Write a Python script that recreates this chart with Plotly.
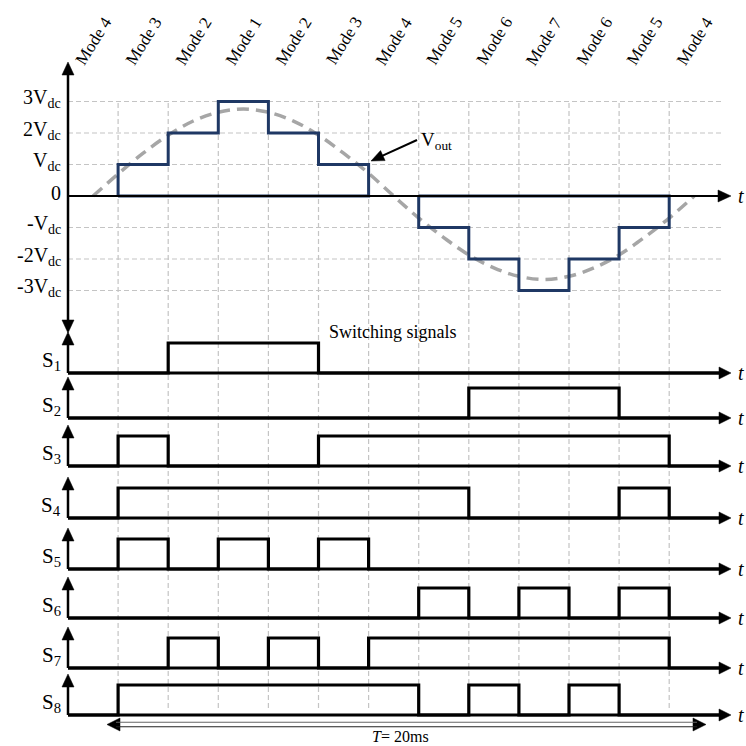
import math
import plotly.graph_objects as go

# ---------------- data ----------------
mode_labels = ["Mode 4", "Mode 3", "Mode 2", "Mode 1", "Mode 2", "Mode 3", "Mode 4",
               "Mode 5", "Mode 6", "Mode 7", "Mode 6", "Mode 5", "Mode 4"]
vout_levels = [0, 1, 2, 3, 2, 1, 0, -1, -2, -3, -2, -1, 0]

level_values = [3, 2, 1, 0, -1, -2, -3]
level_labels = ["3V<sub>dc</sub>", "2V<sub>dc</sub>", "V<sub>dc</sub>", "0",
                "-V<sub>dc</sub>", "-2V<sub>dc</sub>", "-3V<sub>dc</sub>"]

# dashed reference sine (in Vdc units)
sine_t = [0.5, 1.0, 1.5, 2.0, 2.5, 3.0, 3.5, 4.0, 4.5, 5.0, 5.5, 6.0, 6.5,
          7.0, 7.5, 8.0, 8.5, 9.0, 9.5, 10.0, 10.5, 11.0, 11.5, 12.0, 12.5]
sine_v = [0.0, 0.70, 1.36, 1.93, 2.38, 2.66, 2.76, 2.66, 2.38, 1.93, 1.36, 0.72, 0.0,
          -0.70, -1.32, -1.87, -2.28, -2.55, -2.65, -2.55, -2.28, -1.87, -1.32, -0.70, 0.0]

signal_names = ["S<sub>1</sub>", "S<sub>2</sub>", "S<sub>3</sub>", "S<sub>4</sub>",
                "S<sub>5</sub>", "S<sub>6</sub>", "S<sub>7</sub>", "S<sub>8</sub>"]
S1 = [0, 0, 1, 1, 1, 0, 0, 0, 0, 0, 0, 0, 0]
S2 = [0, 0, 0, 0, 0, 0, 0, 0, 1, 1, 1, 0, 0]
S3 = [0, 1, 0, 0, 0, 1, 1, 1, 1, 1, 1, 1, 0]
S4 = [0, 1, 1, 1, 1, 1, 1, 1, 0, 0, 0, 1, 0]
S5 = [0, 1, 0, 1, 0, 1, 0, 0, 0, 0, 0, 0, 0]
S6 = [0, 0, 0, 0, 0, 0, 0, 1, 0, 1, 0, 1, 0]
S7 = [0, 0, 1, 0, 1, 0, 1, 1, 1, 1, 1, 1, 0]
S8 = [0, 1, 1, 1, 1, 1, 1, 0, 1, 0, 1, 0, 0]
signals = [S1, S2, S3, S4, S5, S6, S7, S8]

title_switching = "Switching signals"
vout_label = "V<sub>out</sub>"
period_label = "<i>T</i>= 20ms"
t_label = "<i>t</i>"

# ---------------- layout geometry ----------------
W = H = 746
X0_PX, UNIT = 68, 50.1
Y0_PX, VSCALE = 196, 31.5
SIG_BASE_PX = [373, 418, 466, 518, 569, 618, 668, 715]
SIG_SCALE = 30.0
T_TIP_PX = 731

FONT = "Liberation Serif, Times New Roman, serif"
NAVY = "#1f3864"
GRID = "#c4c4c4"


def xd(px):
    return (px - X0_PX) / UNIT


def xp(px):
    return px / W


def yp(px):
    return 1 - px / H


def yd(px):
    return (Y0_PX - px) / VSCALE


def steps(levels):
    xs, ys = [], []
    for i, lv in enumerate(levels):
        xs += [i, i + 1]
        ys += [lv, lv]
    return xs, ys


shapes = []


def seg(x0, y0, x1, y1, width, color="black"):
    shapes.append(dict(type="line", xref="paper", yref="paper",
                       x0=xp(x0), y0=yp(y0), x1=xp(x1), y1=yp(y1), layer="above",
                       line=dict(color=color, width=width)))


def head(tip, tail, L=13, Wd=12):
    ux, uy = tip[0] - tail[0], tip[1] - tail[1]
    d = math.hypot(ux, uy)
    ux, uy = ux / d, uy / d
    bx, by = tip[0] - ux * L, tip[1] - uy * L
    nx, ny = -uy, ux
    pts = [tip, (bx + nx * Wd / 2, by + ny * Wd / 2), (bx - nx * Wd / 2, by - ny * Wd / 2)]
    path = "M" + " L".join("%.5f,%.5f" % (xp(a), yp(b)) for a, b in pts) + " Z"
    shapes.append(dict(type="path", xref="paper", yref="paper", path=path,
                       fillcolor="black", line=dict(color="black", width=0.5), layer="above"))


def arrow(tail, tip, width, L=13, Wd=12):
    ux, uy = tip[0] - tail[0], tip[1] - tail[1]
    d = math.hypot(ux, uy)
    end = (tip[0] - ux / d * (L - 2), tip[1] - uy / d * (L - 2))
    seg(tail[0], tail[1], end[0], end[1], width)
    head(tip, tail, L, Wd)


# staircase drawn as closed outlines over each non-zero half cycle
st_x, st_y = [], []
i = 0
n = len(vout_levels)
while i < n:
    if vout_levels[i] != 0:
        j = i
        while j < n and vout_levels[j] != 0:
            j += 1
        px_, py_ = [i], [0]
        for k in range(i, j):
            px_ += [k, k + 1]
            py_ += [vout_levels[k], vout_levels[k]]
        px_ += [j, i]
        py_ += [0, 0]
        st_x += px_ + [None]
        st_y += py_ + [None]
        i = j
    else:
        i += 1

fig = go.Figure()

fig.add_trace(go.Scatter(x=sine_t, y=sine_v, mode="lines", line_shape="spline",
                         line=dict(color="#a6a6a6", width=3.5, dash="12px,7px"),
                         hoverinfo="skip", yaxis="y"))

# vertical dashed grid at mode boundaries
for b in range(1, len(mode_labels)):
    shapes.append(dict(type="line", xref="x", yref="paper", x0=b, x1=b,
                       y0=yp(708), y1=yp(101), layer="below",
                       line=dict(color=GRID, width=1.2, dash="5px,3px")))
# horizontal dashed grid at voltage levels
for v in level_values:
    if v != 0:
        shapes.append(dict(type="line", xref="x", yref="y", x0=0, x1=xd(722),
                           y0=v, y1=v, layer="below",
                           line=dict(color=GRID, width=1.2, dash="5px,3px")))

# top panel axes
seg(X0_PX, 62 + 11, X0_PX, 333 - 11, 2.5)
head((X0_PX, 62), (X0_PX, 333))
head((X0_PX, 333), (X0_PX, 62))
arrow((X0_PX, Y0_PX), (T_TIP_PX, Y0_PX), 2.2)

fig.add_trace(go.Scatter(x=st_x, y=st_y, mode="lines",
                         line=dict(color=NAVY, width=3), hoverinfo="skip", yaxis="y"))

# switching signal axes
for base in SIG_BASE_PX:
    arrow((X0_PX, base), (X0_PX, base - 41), 2.5)
    arrow((X0_PX, base), (T_TIP_PX, base), 3, L=12, Wd=12)

for k, sig in enumerate(signals):
    xs, ys = steps(sig)
    fig.add_trace(go.Scatter(x=xs, y=ys, mode="lines",
                             line=dict(color="black", width=3.2),
                             hoverinfo="skip", yaxis="y%d" % (k + 2)))

# Vout pointer
arrow((417, 140), (371, 161), 2, L=13, Wd=11)

# period arrow: hollow (double thin line) shaft with solid heads
T_Y = 724.5
head((107, T_Y), (706, T_Y), L=13, Wd=13)
head((706, T_Y), (107, T_Y), L=13, Wd=13)
for dy, col in ((-2.2, "#666666"), (2.2, "#222222")):
    seg(116, T_Y + dy, 697, T_Y + dy, 1.1, col)

ann = []
# mode labels
for k, m in enumerate(mode_labels):
    ann.append(dict(x=k + 0.5, y=yp(41), xref="x", yref="paper", text=m,
                    showarrow=False, textangle=-58, xanchor="center", yanchor="middle",
                    font=dict(family=FONT, size=17, color="black")))
# voltage level labels
for v, lab in zip(level_values, level_labels):
    ann.append(dict(x=63 / W, y=v, xref="paper", yref="y", text=lab,
                    showarrow=False, xanchor="right", yanchor="middle", yshift=3,
                    font=dict(family=FONT, size=20, color="black")))
# signal labels
for k, lab in enumerate(signal_names):
    ann.append(dict(x=63 / W, y=0, xref="paper", yref="y%d" % (k + 2), text=lab,
                    showarrow=False, xanchor="right", yanchor="middle", yshift=12,
                    font=dict(family=FONT, size=21, color="black")))
# t labels
ann.append(dict(x=xd(741), y=0, xref="x", yref="y", text=t_label, showarrow=False,
                xanchor="center", yanchor="middle",
                font=dict(family=FONT, size=20, color="black")))
for k in range(len(signals)):
    ann.append(dict(x=xd(741), y=0, xref="x", yref="y%d" % (k + 2), text=t_label,
                    showarrow=False, xanchor="center", yanchor="middle",
                    font=dict(family=FONT, size=20, color="black")))

ann.append(dict(x=xd(419), y=yd(141), xref="x", yref="y", text=vout_label,
                showarrow=False, xanchor="left", yanchor="middle",
                font=dict(family=FONT, size=19, color="black")))
ann.append(dict(x=xd(393), y=yp(332), xref="x", yref="paper", text=title_switching,
                showarrow=False, xanchor="center", yanchor="middle",
                font=dict(family=FONT, size=18, color="black")))
ann.append(dict(x=xd(400), y=yp(736), xref="x", yref="paper", text=period_label,
                showarrow=False, xanchor="center", yanchor="middle",
                font=dict(family=FONT, size=16, color="black")))

layout = dict(
    width=W, height=H, margin=dict(l=0, r=0, t=0, b=0, pad=0),
    paper_bgcolor="white", plot_bgcolor="white", showlegend=False,
    xaxis=dict(range=[xd(0), xd(W)], visible=False, showgrid=False, zeroline=False),
    yaxis=dict(range=[yd(H), yd(0)], visible=False, showgrid=False, zeroline=False),
    shapes=shapes, annotations=ann,
)
for k, b in enumerate(SIG_BASE_PX):
    layout["yaxis%d" % (k + 2)] = dict(range=[-(H - b) / SIG_SCALE, b / SIG_SCALE],
                                      overlaying="y", visible=False,
                                      showgrid=False, zeroline=False)
fig.update_layout(**layout)

fig.write_html("out.html", config={"displayModeBar": False},
               post_script="document.body.style.margin='0';document.body.style.overflow='hidden';")
